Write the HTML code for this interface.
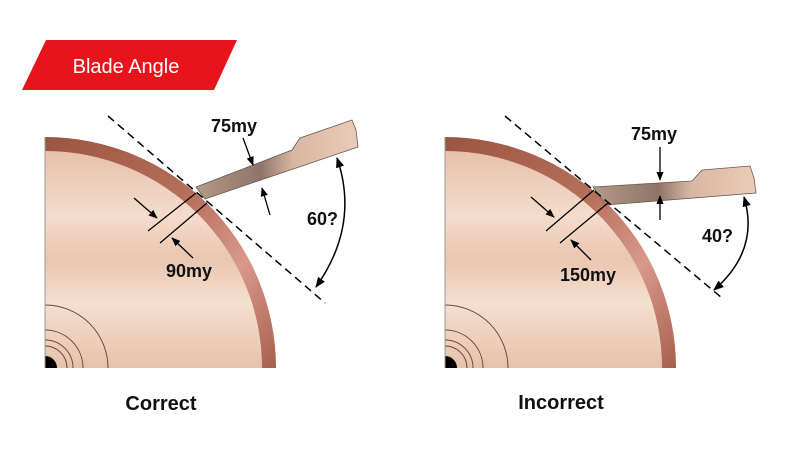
<!DOCTYPE html>
<html><head><meta charset="utf-8"><style>
html,body{margin:0;padding:0;background:#fff;}
svg{display:block;font-family:"Liberation Sans",Arial,sans-serif;}
</style></head><body>
<svg width="800" height="450" viewBox="0 0 800 450">
<defs>
<linearGradient id="disc" x1="0" y1="0" x2="0" y2="1">
<stop offset="0" stop-color="#e6c1ab"/><stop offset="0.3" stop-color="#f4dccb"/><stop offset="0.5" stop-color="#e9c6b0"/><stop offset="0.7" stop-color="#f5dfcf"/><stop offset="1" stop-color="#e6c2ab"/>
</linearGradient>
<linearGradient id="rim" x1="0" y1="0" x2="1" y2="1">
<stop offset="0" stop-color="#9a5440"/><stop offset="0.45" stop-color="#b7705c"/><stop offset="0.7" stop-color="#d9998c"/><stop offset="1" stop-color="#a85f4d"/>
</linearGradient>
<linearGradient id="blade" x1="0" y1="0" x2="1" y2="0">
<stop offset="0" stop-color="#b59a88"/><stop offset="0.4" stop-color="#8e7468"/><stop offset="0.6" stop-color="#d8b8a4"/><stop offset="1" stop-color="#e8cbb8"/>
</linearGradient>
<marker id="ar" viewBox="0 0 10 10" refX="9" refY="5" markerWidth="7" markerHeight="7" orient="auto-start-reverse"><path d="M0,1 L10,5 L0,9 z" fill="#000"/></marker>
</defs>

<polygon points="46,40 237,40 214,90 22,90" fill="#e8141c"/>
<text x="126" y="73" font-size="20" fill="#fff" text-anchor="middle">Blade Angle</text>

<g id="left">
<path d="M45,137 A231,231 0 0 1 276,368 L45,368 Z" fill="url(#rim)"/>
<path d="M45,151 A217,217 0 0 1 262,368 L45,368 Z" fill="url(#disc)"/>
<path d="M45,305 A63,63 0 0 1 108,368" fill="none" stroke="#6b4a3c" stroke-width="1"/>
<path d="M45,330 A38,38 0 0 1 83,368" fill="none" stroke="#6b4a3c" stroke-width="1"/>
<path d="M45,340 A28,28 0 0 1 73,368" fill="none" stroke="#6b4a3c" stroke-width="1"/>
<path d="M45,346 A22,22 0 0 1 67,368" fill="none" stroke="#6b4a3c" stroke-width="1"/>
<path d="M45,356 A12,12 0 0 1 57,368 L45,368Z" fill="#000"/>
<line x1="45" y1="137" x2="45" y2="368" stroke="#999" stroke-width="1"/>
<path d="M196,187 L292,150 L300,138 L352,120 L356,130 L358,147 L205,199 Z" fill="url(#blade)" stroke="#6b5a50" stroke-width="0.8"/>
<line x1="108" y1="116" x2="325" y2="303" stroke="#000" stroke-width="1.5" stroke-dasharray="8,5"/>
<line x1="148" y1="231" x2="196" y2="193" stroke="#000" stroke-width="1.2"/>
<line x1="160" y1="243" x2="207" y2="203" stroke="#000" stroke-width="1.2"/>
<line x1="134" y1="198" x2="157" y2="218" stroke="#000" stroke-width="1.3" marker-end="url(#ar)"/>
<line x1="193" y1="258" x2="172" y2="238" stroke="#000" stroke-width="1.3" marker-end="url(#ar)"/>
<line x1="243" y1="138" x2="253" y2="165" stroke="#000" stroke-width="1.3" marker-end="url(#ar)"/>
<line x1="270" y1="215" x2="262" y2="188" stroke="#000" stroke-width="1.3" marker-end="url(#ar)"/>
<path d="M337,158 Q360,225 316,287" fill="none" stroke="#000" stroke-width="1.5" marker-start="url(#ar)" marker-end="url(#ar)"/>
<text x="211" y="132" font-size="18" font-weight="bold" fill="#111">75my</text>
<text x="307" y="225" font-size="18" font-weight="bold" fill="#111">60?</text>
<text x="166" y="277" font-size="18" font-weight="bold" fill="#111">90my</text>
<text x="161" y="410" font-size="20" font-weight="bold" fill="#111" text-anchor="middle">Correct</text>
</g>

<g id="right">
<path d="M445,137 A231,231 0 0 1 676,368 L445,368 Z" fill="url(#rim)"/>
<path d="M445,151 A217,217 0 0 1 662,368 L445,368 Z" fill="url(#disc)"/>
<path d="M445,305 A63,63 0 0 1 508,368" fill="none" stroke="#6b4a3c" stroke-width="1"/>
<path d="M445,330 A38,38 0 0 1 483,368" fill="none" stroke="#6b4a3c" stroke-width="1"/>
<path d="M445,340 A28,28 0 0 1 473,368" fill="none" stroke="#6b4a3c" stroke-width="1"/>
<path d="M445,346 A22,22 0 0 1 467,368" fill="none" stroke="#6b4a3c" stroke-width="1"/>
<path d="M445,356 A12,12 0 0 1 457,368 L445,368Z" fill="#000"/>
<line x1="445" y1="137" x2="445" y2="368" stroke="#999" stroke-width="1"/>
<path d="M593,187 L692,181 L702,170 L750,166 L754,178 L756,193 L606,205 Z" fill="url(#blade)" stroke="#6b5a50" stroke-width="0.8"/>
<line x1="505" y1="116" x2="722" y2="298" stroke="#000" stroke-width="1.5" stroke-dasharray="8,5"/>
<line x1="546" y1="231" x2="594" y2="190" stroke="#000" stroke-width="1.2"/>
<line x1="560" y1="243" x2="608" y2="203" stroke="#000" stroke-width="1.2"/>
<line x1="531" y1="197" x2="554" y2="217" stroke="#000" stroke-width="1.3" marker-end="url(#ar)"/>
<line x1="591" y1="260" x2="571" y2="240" stroke="#000" stroke-width="1.3" marker-end="url(#ar)"/>
<line x1="660" y1="147" x2="660" y2="180" stroke="#000" stroke-width="1.3" marker-end="url(#ar)"/>
<line x1="660" y1="220" x2="660" y2="196" stroke="#000" stroke-width="1.3" marker-end="url(#ar)"/>
<path d="M744,197 Q760,250 714,290" fill="none" stroke="#000" stroke-width="1.5" marker-start="url(#ar)" marker-end="url(#ar)"/>
<text x="631" y="140" font-size="18" font-weight="bold" fill="#111">75my</text>
<text x="702" y="242" font-size="18" font-weight="bold" fill="#111">40?</text>
<text x="560" y="281" font-size="18" font-weight="bold" fill="#111">150my</text>
<text x="561" y="409" font-size="20" font-weight="bold" fill="#111" text-anchor="middle">Incorrect</text>
</g>
</svg>
</body></html>
